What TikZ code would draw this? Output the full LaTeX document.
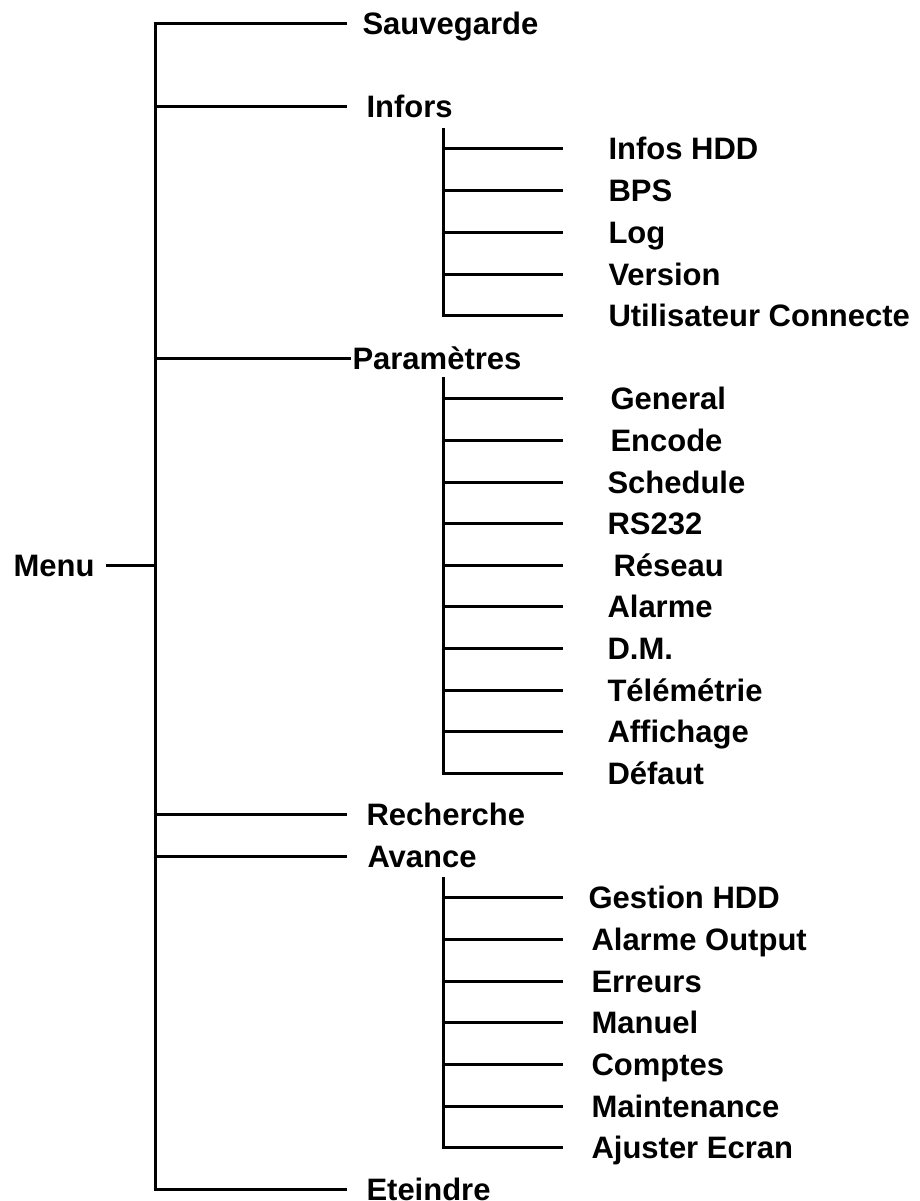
\documentclass[tikz,border=0pt]{standalone}
\usepackage{fontspec}
\setmainfont{Liberation Sans}
\begin{document}
\begin{tikzpicture}[x=1pt,y=-1pt,line width=3pt,line join=miter,
  lbl/.style={anchor=base west,inner sep=0pt,font=\fontsize{31}{36}\selectfont\bfseries,yshift=-11pt},
  wire/.style={draw=black}]
\useasboundingbox (0,0) rectangle (919,1201);
% main trunk
\coordinate (mtop) at (155,24);
\coordinate (mbot) at (155,1189);
\coordinate (mmid) at (155,565);
\node[lbl] (menu) at (12,565) {Menu};
\coordinate (menuend) at (106,565);
\draw[wire] (menuend) -- (mmid);
% main branches
\coordinate (sauvE) at (347,24);
\node[lbl] (sauv) at (361,24) {Sauvegarde};
\coordinate (eteE) at (347,1189);
\node[lbl] (ete) at (365,1189) {Eteindre};
\draw[wire] (sauvE) -- (mtop) -- (mbot) -- (eteE);
\coordinate (infJ) at (155,107); \coordinate (infE) at (347,107);
\node[lbl] (inf) at (365,107) {Infors};
\draw[wire] (infJ) -- (infE);
\coordinate (parJ) at (155,358);
\node[lbl] (par) at (351,358) {Paramètres};
\draw[wire] (parJ) -- (par.west |- parJ);
\coordinate (recJ) at (155,814); \coordinate (recE) at (347,814);
\node[lbl] (rec) at (365,814) {Recherche};
\draw[wire] (recJ) -- (recE);
\coordinate (avJ) at (155,856); \coordinate (avE) at (347,856);
\node[lbl] (av) at (366,856) {Avance};
\draw[wire] (avJ) -- (avE);
% Infors subtree
\coordinate (itop) at (443,128);
\foreach \y/\t [count=\i] in {149/Infos HDD,190.7/BPS,232/Log,274/Version,315/Utilisateur Connecte}{
  \coordinate (ia\i) at (443,\y);
  \coordinate (ie\i) at (563,\y);
  \node[lbl] (il\i) at (607,\y) {\t};
  \draw[wire] (ia\i) -- (ie\i);
}
\draw[wire] (itop) -- (ia5) -- (ie5);
% Parametres subtree
\coordinate (ptop) at (443,377);
\foreach \y/\x/\t [count=\i] in {398.7/609/General,440/609/Encode,482/606/Schedule,523.3/606/RS232,565/612/Réseau,606.7/606/Alarme,648.3/606/D.M.,690/606/Télémétrie,731.7/606/Affichage,773.3/606/Défaut}{
  \coordinate (pa\i) at (443,\y);
  \coordinate (pe\i) at (563,\y);
  \node[lbl] (pl\i) at (\x,\y) {\t};
  \draw[wire] (pa\i) -- (pe\i);
}
\draw[wire] (ptop) -- (pa10) -- (pe10);
% Avance subtree
\coordinate (atop) at (443,877);
\foreach \y/\x/\t [count=\i] in {897.7/587/Gestion HDD,939.7/590/Alarme Output,981/590/Erreurs,1022.7/590/Manuel,1064/590/Comptes,1106/590/Maintenance,1147.7/590/Ajuster Ecran}{
  \coordinate (aa\i) at (443,\y);
  \coordinate (ae\i) at (563,\y);
  \node[lbl] (al\i) at (\x,\y) {\t};
  \draw[wire] (aa\i) -- (ae\i);
}
\draw[wire] (atop) -- (aa7) -- (ae7);
\end{tikzpicture}
\end{document}
